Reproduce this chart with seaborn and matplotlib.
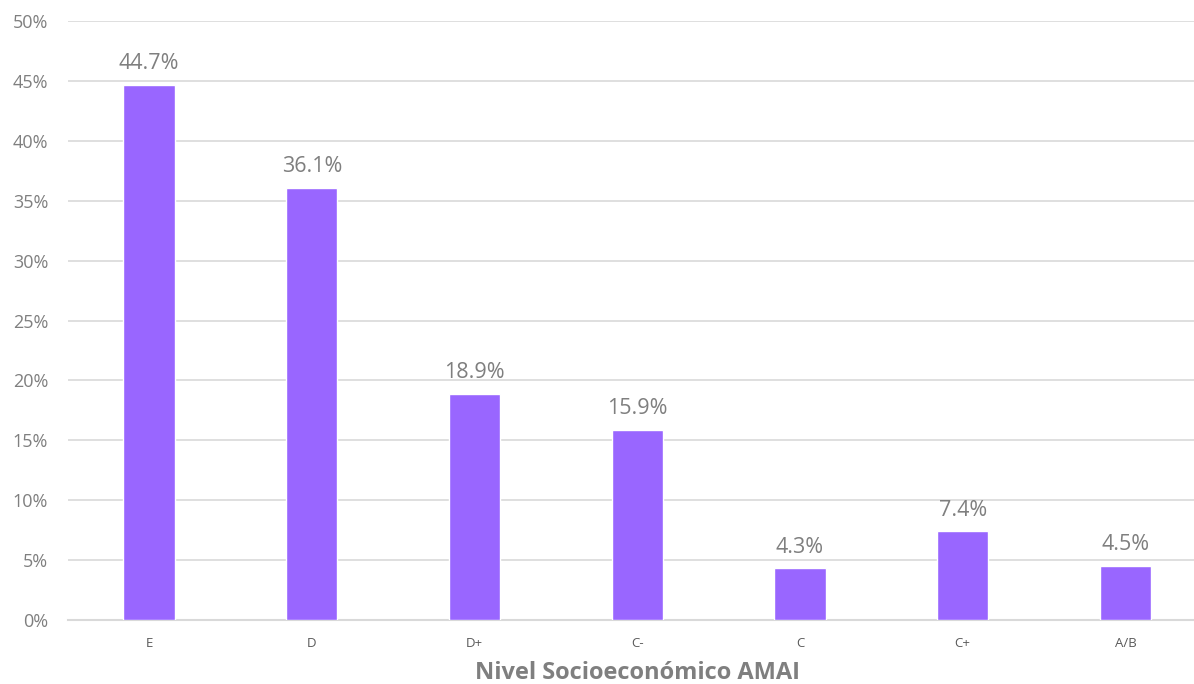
import matplotlib
matplotlib.use("Agg")
import matplotlib.pyplot as plt
import seaborn as sns
import pandas as pd

categories = ['E', 'D', 'D+', 'C-', 'C', 'C+', 'A/B']
values = [44.7, 36.1, 18.9, 15.9, 4.3, 7.4, 4.5]
y_ticks = [0, 5, 10, 15, 20, 25, 30, 35, 40, 45, 50]

df = pd.DataFrame({'Nivel': categories, 'Pct': values})

sns.set_style("white")
plt.rcParams['font.family'] = ['Open Sans', 'DejaVu Sans']

fig = plt.figure(figsize=(11.94, 6.84), dpi=100)
ax = fig.add_axes([0.0567, 0.0936, 0.954, 0.8754])

sns.barplot(data=df, x='Nivel', y='Pct', color='#9966FF', width=0.315,
            saturation=1, ax=ax, zorder=3)

for i, v in enumerate(values):
    ax.text(i, v + 0.9, f'{v:.1f}%', ha='center', va='bottom',
            fontsize=15.5, color='#7F7F7F')

ax.set_ylim(0, 50)
ax.set_xlim(-0.5, len(categories) - 0.5)
ax.set_yticks(y_ticks)
ax.set_yticklabels([f'{t}%' for t in y_ticks])
ax.yaxis.grid(True, color='#D9D9D9', linewidth=1.2, zorder=0)
ax.set_axisbelow(True)

for s in ['top', 'right', 'left']:
    ax.spines[s].set_visible(False)
ax.spines['bottom'].set_color('#D9D9D9')
ax.spines['bottom'].set_linewidth(1.5)

ax.tick_params(axis='y', length=0, labelsize=13, labelcolor='#7F7F7F', pad=14)
ax.tick_params(axis='x', length=0, labelsize=9.5, labelcolor='#595959', pad=12)

ax.set_ylabel('')
ax.set_xlabel('Nivel Socioeconómico AMAI', fontsize=17, fontweight='bold',
              color='#7F7F7F', labelpad=8)

fig.savefig('out.png', dpi=100)
